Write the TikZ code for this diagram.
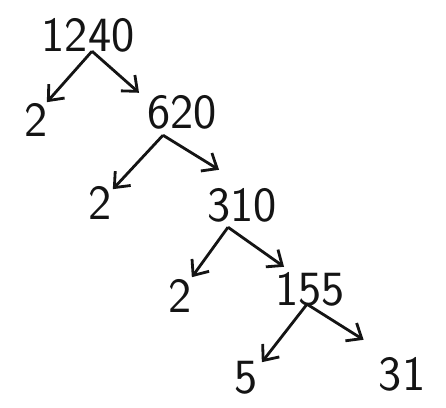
\documentclass[tikz,border=0pt]{standalone}
\usepackage{tikz}
\usetikzlibrary{arrows.meta, positioning, calc}
\usepackage{xcolor}
\definecolor{InkBlack}{RGB}{20,20,20}

\begin{document}
\begin{tikzpicture}[x=0.025cm, y=-0.025cm,
    num/.style={font=\fontsize{35}{38}\selectfont\sffamily, text=InkBlack, inner sep=0pt},
    split/.style={-{Straight Barb[length=9pt, width=15pt, line width=2pt]},
                  line width=2pt, draw=InkBlack}]
  \useasboundingbox (0,0) rectangle (446,407);

  % the numbers of the factor tree
  \node[num] (n1240) at (88,35)  {1240};
  \node[num] (f1)    at (36,120) {2};
  \node[num] (n620)  at (182,112) {620};
  \node[num] (f2)    at (100,203) {2};
  \node[num] (n310)  at (242,205) {310};
  \node[num] (f3)    at (180,296) {2};
  \node[num] (n155)  at (310,289) {155};
  \node[num] (f5)    at (246,378) {5};
  \node[num] (f31)   at (402,374) {31};

  % where the arrows split
  \coordinate (a1240) at ($(n1240.south)+(4,-1)$);
  \coordinate (a620)  at ($(n620.south)+(-19,6)$);
  \coordinate (a310)  at ($(n310.south)+(-14,5)$);
  \coordinate (a155)  at ($(n155.south)+(-3,-2)$);

  % splitting arrows
  \draw[split] (a1240) -- ($(f1.north east)+(-1,-1)$);
  \draw[split] (a1240) -- ($(n620.north west)+(-8,-2)$);
  \draw[split] (a620) -- ($(f2.north east)+(1,3)$);
  \draw[split] (a620) -- ($(n310.north west)+(12,-18)$);
  \draw[split] (a310) -- ($(f3.north east)+(0,-2)$);
  \draw[split] (a310) -- ($(n155.north west)+(9,-5)$);
  \draw[split] (a155) -- ($(f5.north east)+(4,1)$);
  \draw[split] (a155) -- ($(f31.north west)+(-15,-17)$);
\end{tikzpicture}
\end{document}
